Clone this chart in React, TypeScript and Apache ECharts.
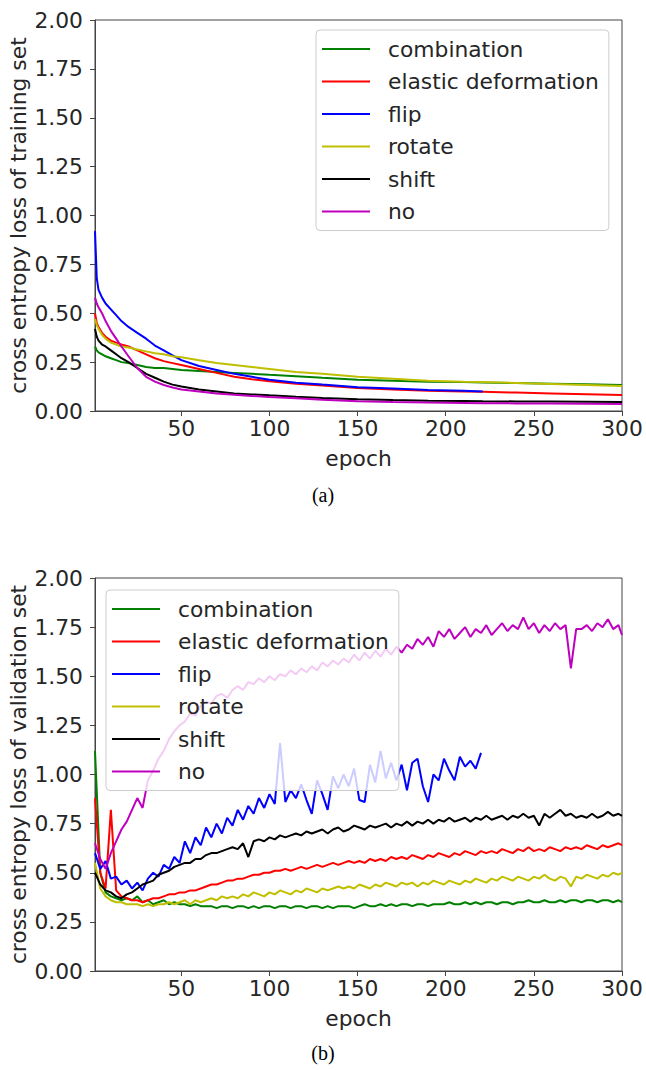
import React, { useEffect, useRef } from "react";
import * as echarts from "echarts";

const names = ["combination", "elastic deformation", "flip", "rotate", "shift", "no"];
const colors = ["#008000", "#ff0000", "#0000ff", "#bfbf00", "#000000", "#bf00bf"];
const yTicks = [0, 0.25, 0.5, 0.75, 1, 1.25, 1.5, 1.75, 2];
const xTicks = [50, 100, 150, 200, 250, 300];

// (a) training loss, sampled epochs
const epochsA = [1, 2, 3, 5, 7, 10, 13, 16, 20, 25, 30, 35, 40, 45, 50, 60, 70, 80, 90, 100, 115, 130, 150, 170, 190, 210, 221, 240, 260, 280, 300];
const trainCombination = [0.33, 0.31, 0.30, 0.29, 0.28, 0.27, 0.26, 0.25, 0.245, 0.235, 0.225, 0.22, 0.22, 0.215, 0.21, 0.205, 0.20, 0.195, 0.19, 0.185, 0.178, 0.17, 0.16, 0.155, 0.15, 0.148, 0.146, 0.143, 0.14, 0.137, 0.133];
const trainElastic = [0.50, 0.45, 0.43, 0.40, 0.38, 0.36, 0.35, 0.34, 0.33, 0.31, 0.29, 0.27, 0.255, 0.245, 0.235, 0.215, 0.195, 0.175, 0.162, 0.152, 0.14, 0.13, 0.118, 0.11, 0.104, 0.1, 0.098, 0.094, 0.09, 0.086, 0.082];
const trainFlip = [0.92, 0.68, 0.62, 0.58, 0.55, 0.52, 0.49, 0.46, 0.43, 0.40, 0.37, 0.335, 0.31, 0.285, 0.26, 0.23, 0.21, 0.19, 0.175, 0.16, 0.145, 0.135, 0.122, 0.115, 0.108, 0.104, 0.1];
const trainRotate = [0.47, 0.44, 0.42, 0.39, 0.37, 0.35, 0.34, 0.33, 0.325, 0.315, 0.305, 0.295, 0.29, 0.28, 0.275, 0.26, 0.245, 0.235, 0.225, 0.215, 0.2, 0.19, 0.175, 0.165, 0.155, 0.15, 0.148, 0.143, 0.138, 0.133, 0.128];
const trainShift = [0.42, 0.38, 0.36, 0.34, 0.33, 0.31, 0.29, 0.27, 0.25, 0.22, 0.19, 0.17, 0.15, 0.135, 0.125, 0.11, 0.1, 0.09, 0.085, 0.08, 0.073, 0.067, 0.06, 0.056, 0.053, 0.051, 0.05, 0.049, 0.048, 0.047, 0.046];
const trainNo = [0.58, 0.55, 0.53, 0.50, 0.46, 0.41, 0.37, 0.33, 0.28, 0.22, 0.175, 0.15, 0.133, 0.12, 0.11, 0.1, 0.09, 0.083, 0.077, 0.072, 0.065, 0.058, 0.05, 0.046, 0.043, 0.041, 0.04, 0.039, 0.038, 0.037, 0.036];

// (b) validation loss, every third epoch (1, 4, 7, ... 298) and 300
const epochsB = [...Array.from({ length: 100 }, (_, k) => 1 + 3 * k), 300];
const valCombination = [1.12, 0.50, 0.40, 0.38, 0.37, 0.36, 0.37, 0.36, 0.38, 0.35, 0.36, 0.34, 0.35, 0.36, 0.34, 0.35, 0.34, 0.34, 0.33, 0.34, 0.33, 0.33, 0.33, 0.32, 0.33, 0.33, 0.32, 0.33, 0.33, 0.32, 0.33, 0.32, 0.33, 0.33, 0.32, 0.33, 0.33, 0.32, 0.33, 0.33, 0.32, 0.33, 0.33, 0.32, 0.33, 0.32, 0.33, 0.33, 0.33, 0.32, 0.33, 0.34, 0.33, 0.33, 0.34, 0.33, 0.34, 0.33, 0.34, 0.34, 0.33, 0.34, 0.34, 0.33, 0.34, 0.34, 0.34, 0.35, 0.34, 0.34, 0.35, 0.34, 0.35, 0.34, 0.35, 0.35, 0.34, 0.35, 0.35, 0.34, 0.35, 0.35, 0.36, 0.35, 0.35, 0.36, 0.35, 0.35, 0.36, 0.35, 0.36, 0.36, 0.35, 0.36, 0.36, 0.35, 0.36, 0.36, 0.35, 0.36, 0.35];
const valElastic = [0.88, 0.50, 0.42, 0.82, 0.41, 0.38, 0.37, 0.36, 0.36, 0.35, 0.36, 0.37, 0.37, 0.38, 0.39, 0.39, 0.40, 0.40, 0.41, 0.41, 0.42, 0.43, 0.44, 0.44, 0.45, 0.46, 0.46, 0.47, 0.47, 0.48, 0.49, 0.49, 0.50, 0.50, 0.51, 0.51, 0.52, 0.51, 0.52, 0.53, 0.52, 0.53, 0.54, 0.53, 0.54, 0.55, 0.54, 0.55, 0.56, 0.55, 0.56, 0.55, 0.57, 0.56, 0.57, 0.56, 0.58, 0.57, 0.58, 0.57, 0.59, 0.58, 0.57, 0.59, 0.58, 0.60, 0.59, 0.58, 0.60, 0.59, 0.61, 0.60, 0.59, 0.61, 0.60, 0.61, 0.60, 0.62, 0.61, 0.60, 0.62, 0.61, 0.63, 0.61, 0.62, 0.61, 0.63, 0.62, 0.61, 0.63, 0.62, 0.63, 0.62, 0.64, 0.63, 0.62, 0.64, 0.63, 0.64, 0.65, 0.64];
const valFlip = [0.60, 0.52, 0.56, 0.47, 0.48, 0.44, 0.46, 0.42, 0.45, 0.41, 0.47, 0.50, 0.48, 0.54, 0.52, 0.58, 0.55, 0.66, 0.60, 0.68, 0.64, 0.73, 0.68, 0.75, 0.70, 0.78, 0.74, 0.82, 0.77, 0.84, 0.80, 0.88, 0.83, 0.90, 0.85, 1.16, 0.86, 0.92, 0.88, 0.95, 0.87, 0.80, 0.97, 0.90, 0.82, 0.99, 0.93, 1.00, 0.94, 1.03, 0.87, 0.86, 1.05, 0.96, 1.12, 0.98, 1.06, 0.97, 1.05, 0.92, 1.06, 1.08, 0.94, 0.86, 1.00, 0.97, 1.08, 1.02, 0.97, 1.09, 1.04, 1.07, 1.03, 1.11];
const valRotate = [0.55, 0.42, 0.38, 0.36, 0.35, 0.35, 0.34, 0.34, 0.34, 0.33, 0.34, 0.33, 0.34, 0.34, 0.35, 0.34, 0.35, 0.36, 0.34, 0.36, 0.35, 0.36, 0.37, 0.36, 0.38, 0.37, 0.38, 0.37, 0.39, 0.38, 0.40, 0.39, 0.38, 0.40, 0.39, 0.41, 0.40, 0.39, 0.41, 0.40, 0.42, 0.41, 0.40, 0.42, 0.41, 0.42, 0.43, 0.42, 0.43, 0.42, 0.44, 0.43, 0.42, 0.44, 0.43, 0.45, 0.44, 0.43, 0.45, 0.44, 0.45, 0.43, 0.45, 0.44, 0.46, 0.45, 0.44, 0.46, 0.45, 0.44, 0.46, 0.45, 0.47, 0.46, 0.45, 0.47, 0.46, 0.48, 0.47, 0.46, 0.48, 0.47, 0.46, 0.48, 0.47, 0.49, 0.47, 0.46, 0.48, 0.47, 0.43, 0.48, 0.47, 0.49, 0.48, 0.47, 0.49, 0.48, 0.50, 0.49, 0.50];
const valShift = [0.50, 0.44, 0.41, 0.40, 0.38, 0.37, 0.39, 0.40, 0.42, 0.44, 0.45, 0.46, 0.49, 0.50, 0.51, 0.53, 0.54, 0.55, 0.55, 0.57, 0.57, 0.59, 0.60, 0.60, 0.61, 0.62, 0.63, 0.62, 0.65, 0.58, 0.66, 0.67, 0.66, 0.68, 0.67, 0.69, 0.68, 0.69, 0.70, 0.69, 0.71, 0.70, 0.71, 0.72, 0.70, 0.72, 0.73, 0.71, 0.72, 0.74, 0.73, 0.72, 0.74, 0.73, 0.74, 0.75, 0.73, 0.75, 0.74, 0.76, 0.74, 0.76, 0.75, 0.77, 0.75, 0.77, 0.76, 0.78, 0.76, 0.77, 0.78, 0.76, 0.78, 0.77, 0.79, 0.77, 0.78, 0.79, 0.77, 0.79, 0.78, 0.80, 0.78, 0.79, 0.74, 0.80, 0.78, 0.80, 0.82, 0.79, 0.80, 0.78, 0.79, 0.78, 0.80, 0.78, 0.79, 0.81, 0.79, 0.80, 0.79];
const valNo = [0.65, 0.57, 0.52, 0.60, 0.66, 0.72, 0.76, 0.82, 0.88, 0.83, 0.97, 1.02, 1.08, 1.12, 1.18, 1.22, 1.25, 1.27, 1.31, 1.30, 1.35, 1.37, 1.36, 1.40, 1.41, 1.39, 1.43, 1.45, 1.43, 1.47, 1.46, 1.49, 1.47, 1.50, 1.48, 1.51, 1.50, 1.53, 1.51, 1.54, 1.52, 1.55, 1.53, 1.57, 1.55, 1.58, 1.56, 1.59, 1.57, 1.61, 1.58, 1.62, 1.59, 1.63, 1.60, 1.64, 1.61, 1.65, 1.62, 1.66, 1.64, 1.69, 1.66, 1.70, 1.65, 1.73, 1.70, 1.74, 1.69, 1.72, 1.75, 1.70, 1.74, 1.72, 1.76, 1.71, 1.74, 1.77, 1.73, 1.76, 1.74, 1.80, 1.74, 1.77, 1.72, 1.76, 1.73, 1.77, 1.74, 1.76, 1.54, 1.74, 1.74, 1.76, 1.73, 1.77, 1.75, 1.79, 1.74, 1.76, 1.71];

const trainSets = [trainCombination, trainElastic, trainFlip, trainRotate, trainShift, trainNo];
const valSets = [valCombination, valElastic, valFlip, valRotate, valShift, valNo];

const FONT = "DejaVu Sans";
const TXT = "#262626";
const FS = 21.8;

function pairs(xs: number[], ys: number[]) {
  return ys.map((v, i) => [xs[i], v]);
}

function makeXAxis(gridIndex: number) {
  return {
    type: "value",
    gridIndex,
    min: 1,
    max: 300,
    name: "epoch",
    nameLocation: "middle",
    nameGap: 36,
    nameTextStyle: { fontFamily: FONT, fontSize: FS, color: TXT },
    axisLine: { show: true, lineStyle: { color: "#444", width: 1 } },
    axisTick: { show: true, length: 5, lineStyle: { color: "#444" }, customValues: xTicks },
    axisLabel: { fontFamily: FONT, fontSize: FS, color: TXT, margin: 6, customValues: xTicks },
    splitLine: { show: false },
  };
}

function makeYAxis(gridIndex: number, name: string) {
  return {
    type: "value",
    gridIndex,
    min: 0,
    max: 2,
    interval: 0.25,
    name,
    nameLocation: "middle",
    nameGap: 66,
    nameMoveOverlap: false,
    nameTextStyle: { fontFamily: FONT, fontSize: FS, color: TXT },
    axisLine: { show: true, lineStyle: { color: "#444", width: 1 } },
    axisTick: { show: true, length: 5, lineStyle: { color: "#444" } },
    axisLabel: {
      fontFamily: FONT,
      fontSize: FS,
      color: TXT,
      margin: 12,
      formatter: (v: number) => v.toFixed(2),
      customValues: yTicks,
    },
    splitLine: { show: false },
  };
}

function makeLegend(left: number, top: number) {
  return {
    orient: "vertical",
    left,
    top,
    data: names,
    icon: "rect",
    itemWidth: 48,
    itemHeight: 2,
    itemGap: 10.5,
    padding: [8, 10, 8, 6],
    backgroundColor: "rgba(255,255,255,0.8)",
    borderColor: "#cccccc",
    borderWidth: 1,
    borderRadius: 4,
    selectedMode: false,
    textStyle: { fontFamily: FONT, fontSize: FS, color: TXT, lineHeight: 22, padding: [0, 0, 0, 13] },
  };
}

export default function App() {
  const ref = useRef<HTMLDivElement>(null);
  useEffect(() => {
    if (!ref.current) return;
    const chart = echarts.init(ref.current, undefined, { renderer: "svg" });
    const series: any[] = [];
    names.forEach((n, i) => {
      series.push({
        name: n,
        type: "line",
        xAxisIndex: 0,
        yAxisIndex: 0,
        data: pairs(epochsA, trainSets[i]),
        showSymbol: false,
        symbol: "none",
        lineStyle: { color: colors[i], width: 2 },
        itemStyle: { color: colors[i] },
        z: 2,
      });
    });
    names.forEach((n, i) => {
      series.push({
        name: n,
        type: "line",
        xAxisIndex: 1,
        yAxisIndex: 1,
        data: pairs(epochsB, valSets[i]),
        showSymbol: false,
        symbol: "none",
        lineStyle: { color: colors[i], width: 2 },
        itemStyle: { color: colors[i] },
        z: 2,
      });
    });
    chart.setOption({
      animation: false,
      backgroundColor: "#ffffff",
      grid: [
        { left: 95, right: 24, top: 20, height: 391, show: true, borderColor: "#444", borderWidth: 1, backgroundColor: "transparent", containLabel: false, outerBoundsMode: "none" },
        { left: 95, right: 24, top: 578, height: 393, show: true, borderColor: "#444", borderWidth: 1, backgroundColor: "transparent", containLabel: false, outerBoundsMode: "none" },
      ],
      xAxis: [makeXAxis(0), makeXAxis(1)],
      yAxis: [makeYAxis(0, "cross entropy loss of training set"), makeYAxis(1, "cross entropy loss of validation set")],
      legend: [makeLegend(316, 30), makeLegend(106, 590)],
      graphic: [
        { type: "text", left: "center", top: 485, style: { text: "(a)", font: "20px 'Liberation Serif'", fill: "#000" } },
        { type: "text", left: "center", top: 1043, style: { text: "(b)", font: "20px 'Liberation Serif'", fill: "#000" } },
      ],
      series,
    });
    return () => chart.dispose();
  }, []);
  return <div ref={ref} style={{ position: "fixed", left: 0, top: 0, width: 646, height: 1070 }} />;
}
